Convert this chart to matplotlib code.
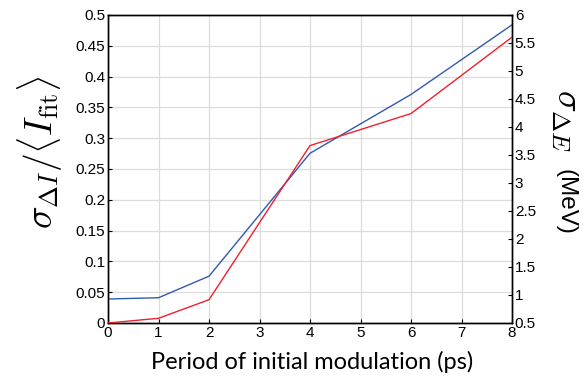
import matplotlib
matplotlib.use("Agg")
import matplotlib.pyplot as plt
import numpy as np

period = [0, 1, 2, 4, 6, 8]
sigma_I = [0.039, 0.041, 0.076, 0.2755, 0.371, 0.484]
sigma_E = [0.5, 0.584, 0.916, 3.668, 4.24, 5.604]

plt.rcParams['mathtext.fontset'] = 'cm'
tickfont = 'Liberation Sans'

fig = plt.figure(figsize=(5.88, 3.8), dpi=100)
ax = fig.add_axes([108/588, 1-323/380, (512-108)/588, (323-15)/380])
ax2 = ax.twinx()

ax.plot(period, sigma_I, color='#3159B0', lw=1.0, zorder=3)
ax2.plot(period, sigma_E, color='#EE2030', lw=1.0, zorder=3)

ax.set_xlim(0, 8)
ax.set_ylim(0, 0.5)
ax2.set_ylim(0.5, 6)
ax.set_xticks(np.arange(0, 9, 1))
ax.set_yticks(np.arange(0, 0.501, 0.05))
ax2.set_yticks(np.arange(0.5, 6.01, 0.5))
ax.set_xticklabels([str(i) for i in range(9)])
ax.set_yticklabels(['0', '0.05', '0.1', '0.15', '0.2', '0.25', '0.3', '0.35', '0.4', '0.45', '0.5'])
ax2.set_yticklabels(['0.5', '1', '1.5', '2', '2.5', '3', '3.5', '4', '4.5', '5', '5.5', '6'])

ax.grid(True, color='#dcdcdc', lw=0.9)
ax.set_axisbelow(True)
for a in (ax, ax2):
    a.tick_params(direction='in', length=3, width=0.8, labelsize=11, pad=2)
    for lab in a.get_xticklabels() + a.get_yticklabels():
        lab.set_fontfamily(tickfont)
    for s in a.spines.values():
        s.set_linewidth(1.0)
        s.set_color('black')

fig.text(312/588, 1-362/380, 'Period of initial modulation (ps)', fontsize=17,
         family='Lato', ha='center', va='center')
fig.text(40/588, 1-152/380, r'$\sigma_{\Delta I}/\langle I_{\rm fit}\rangle$',
         fontsize=27, rotation=90, ha='center', va='center')
fig.text(566/588, 1-120/380, r'$\sigma_{\Delta E}$', fontsize=26, rotation=-90,
         ha='center', va='center')
fig.text(566/588, 1-202/380, '(MeV)', fontsize=17.5, rotation=-90,
         ha='center', va='center', family='Liberation Sans')

fig.savefig('out.png', dpi=100)
